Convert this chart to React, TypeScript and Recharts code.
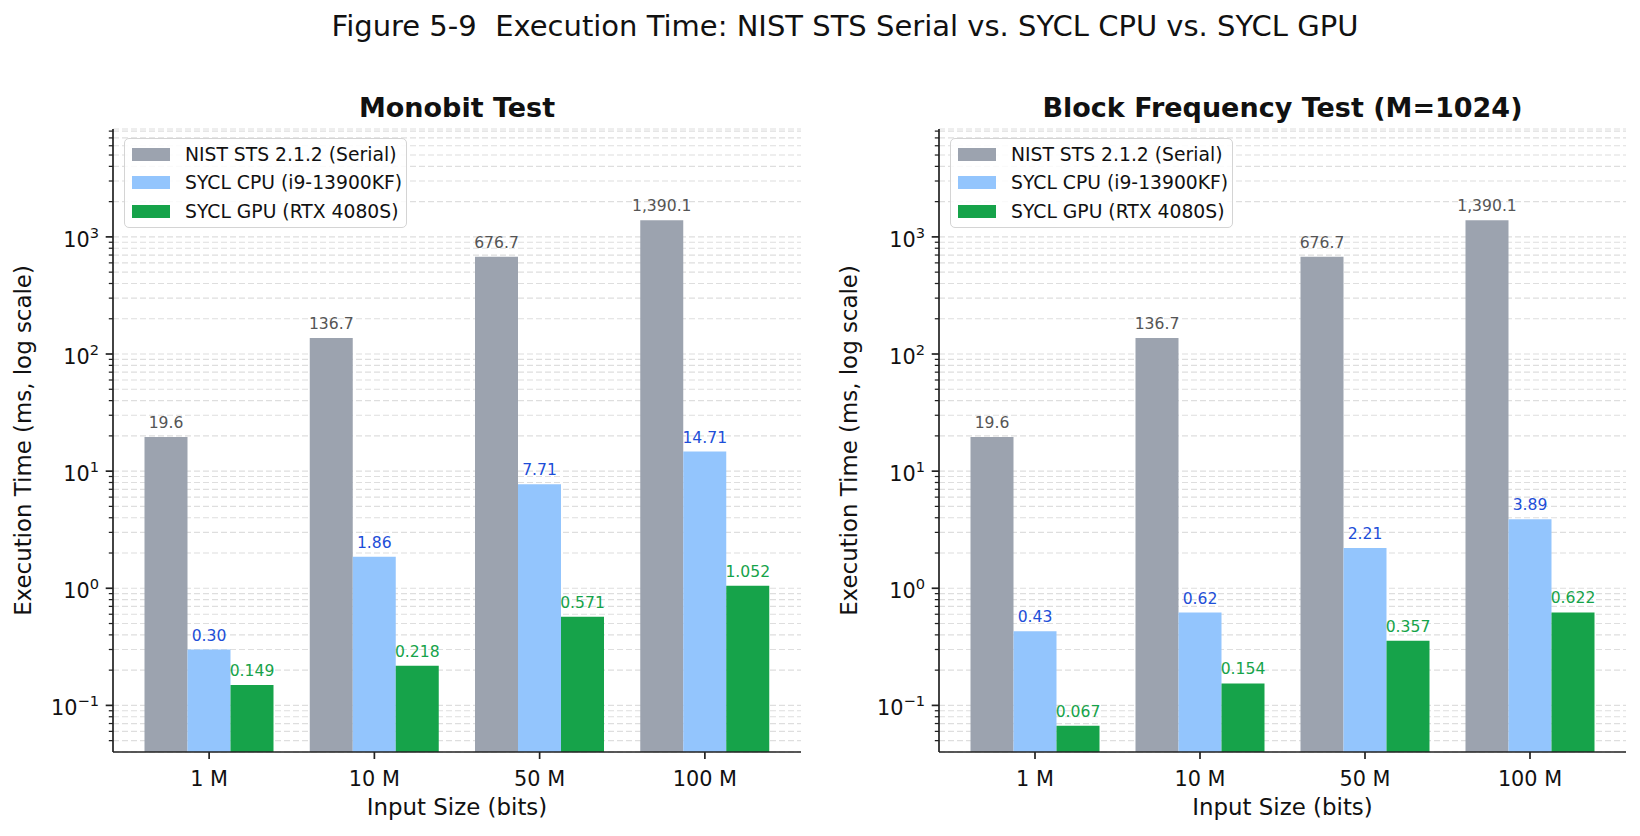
import { BarChart, Bar, XAxis, YAxis, CartesianGrid, LabelList, Label } from 'recharts'

const CATEGORIES = ['1 M', '10 M', '50 M', '100 M']
const SERIAL_MS = [19.6, 136.7, 676.7, 1390.1]
const MONOBIT_CPU_MS = [0.3, 1.86, 7.71, 14.71]
const MONOBIT_GPU_MS = [0.149, 0.218, 0.571, 1.052]
const BLOCK_CPU_MS = [0.43, 0.62, 2.21, 3.89]
const BLOCK_GPU_MS = [0.067, 0.154, 0.357, 0.622]
const SERIES_NAMES = ['NIST STS 2.1.2 (Serial)', 'SYCL CPU (i9-13900KF)', 'SYCL GPU (RTX 4080S)']
const MAJOR_TICKS = [0.1, 1, 10, 100, 1000]
const Y_DOMAIN = [0.04, 8340]

const COLORS = { serial: '#9ca3af', cpu: '#93c5fd', gpu: '#16a34a' }
const LABEL_COLORS = { serial: '#555555', cpu: '#1d4ed8', gpu: '#16a34a' }
const FONT = '"DejaVu Sans", sans-serif'

// minor ticks at 2..9 x each decade, inside the y range
const ALL_TICKS: number[] = []
for (let e = -2; e <= 3; e++) {
  for (let m = 1; m <= 9; m++) {
    const v = parseFloat((m * Math.pow(10, e)).toPrecision(3))
    if (v > Y_DOMAIN[0] && v < Y_DOMAIN[1]) ALL_TICKS.push(v)
  }
}

const makeRows = (cpu: number[], gpu: number[]) =>
  CATEGORIES.map((size, i) => ({ size, serial: SERIAL_MS[i], cpu: cpu[i], gpu: gpu[i] }))

const fmtSerial = (v: any) =>
  Number(v).toLocaleString('en-US', { minimumFractionDigits: 1, maximumFractionDigits: 1 })
const fmtCpu = (v: any) => Number(v).toFixed(2)
const fmtGpu = (v: any) => Number(v).toFixed(3)

function LogTick(props: any) {
  const { x, y, payload } = props
  const axisX = x + 14
  const v = payload.value
  const isMajor = MAJOR_TICKS.includes(v)
  if (!isMajor) {
    return <line x1={axisX - 4.2} x2={axisX} y1={y} y2={y} stroke="#222" strokeWidth={1.25} />
  }
  const exp = Math.round(Math.log10(v))
  const expText = exp < 0 ? '\u2212' + Math.abs(exp) : String(exp)
  return (
    <g>
      <line x1={axisX - 7.3} x2={axisX} y1={y} y2={y} stroke="#222" strokeWidth={1.7} />
      <text x={x} y={y + 10} textAnchor="end" fontSize={20.8} fill="#111">
        <tspan>10</tspan>
        <tspan dy={-9} fontSize={14.6}>{expText}</tspan>
      </text>
    </g>
  )
}

function LegendBox({ left }: { left: number }) {
  const colors = [COLORS.serial, COLORS.cpu, COLORS.gpu]
  return (
    <div
      style={{
        position: 'absolute',
        left,
        top: 138,
        width: 283,
        height: 90,
        boxSizing: 'border-box',
        border: '1.5px solid #d4d4d4',
        borderRadius: 5,
        background: 'rgba(255,255,255,0.85)',
        padding: '1px 0 0 7px',
        fontSize: 18.75,
        color: '#111',
      }}
    >
      {SERIES_NAMES.map((name, i) => (
        <div key={name} style={{ display: 'flex', alignItems: 'center', height: 28.5 }}>
          <div style={{ width: 38, height: 13, background: colors[i], marginRight: 15 }} />
          <span style={{ whiteSpace: 'nowrap' }}>{name}</span>
        </div>
      ))}
    </div>
  )
}

interface PanelProps {
  title: string
  cpu: number[]
  gpu: number[]
  left: number
  axisWidth: number
  rightMargin: number
}

function Panel({ title, cpu, gpu, left, axisWidth, rightMargin }: PanelProps) {
  const rows = makeRows(cpu, gpu)
  const plotW = 820 - axisWidth - rightMargin
  return (
    <div style={{ position: 'absolute', left, top: 0, width: 820, height: 836 }}>
      <div
        style={{
          position: 'absolute',
          left: axisWidth,
          width: plotW,
          top: 94,
          textAlign: 'center',
          fontWeight: 'bold',
          fontSize: 27,
          lineHeight: '27px',
          color: '#111',
          whiteSpace: 'nowrap',
        }}
      >
        {title}
      </div>
      <BarChart
        width={820}
        height={836}
        data={rows}
        margin={{ top: 129, right: rightMargin, bottom: 24, left: 0 }}
        barCategoryGap={18}
        barGap={0}
      >
        <XAxis
          dataKey="size"
          height={60}
          padding={{ left: 13.5, right: 13.5 }}
          tick={{ fontSize: 20.8, fill: '#111' }}
          tickSize={7}
          tickMargin={12}
          tickLine={{ stroke: '#222', strokeWidth: 1.7 }}
          axisLine={{ stroke: '#222', strokeWidth: 1.7 }}
        >
          <Label
            content={(p: any) => (
              <text
                x={p.viewBox.x + p.viewBox.width / 2}
                y={815}
                textAnchor="middle"
                fontSize={22.9}
                fill="#111"
              >
                Input Size (bits)
              </text>
            )}
          />
        </XAxis>
        <YAxis
          type="number"
          scale="log"
          domain={Y_DOMAIN}
          allowDataOverflow
          ticks={ALL_TICKS}
          interval={0}
          width={axisWidth}
          tickSize={7}
          tickMargin={7}
          tickLine={false}
          tick={<LogTick />}
          axisLine={{ stroke: '#222', strokeWidth: 1.7 }}
        >
          <Label
            content={(p: any) => {
              const cx = axisWidth - 90
              const cy = p.viewBox.y + p.viewBox.height / 2
              return (
                <text
                  x={cx}
                  y={cy}
                  transform={`rotate(-90 ${cx} ${cy})`}
                  textAnchor="middle"
                  dominantBaseline="central"
                  fontSize={22.9}
                  fill="#111"
                >
                  Execution Time (ms, log scale)
                </text>
              )
            }}
          />
        </YAxis>
        <Bar dataKey="serial" fill={COLORS.serial} isAnimationActive={false}>
          <LabelList
            dataKey="serial"
            position="top"
            offset={9}
            formatter={fmtSerial}
            fill={LABEL_COLORS.serial}
            fontSize={15.6}
          />
        </Bar>
        <Bar dataKey="cpu" fill={COLORS.cpu} isAnimationActive={false}>
          <LabelList
            dataKey="cpu"
            position="top"
            offset={9}
            formatter={fmtCpu}
            fill={LABEL_COLORS.cpu}
            fontSize={15.6}
          />
        </Bar>
        <Bar dataKey="gpu" fill={COLORS.gpu} isAnimationActive={false}>
          <LabelList
            dataKey="gpu"
            position="top"
            offset={9}
            formatter={fmtGpu}
            fill={LABEL_COLORS.gpu}
            fontSize={15.6}
          />
        </Bar>
        <CartesianGrid
          vertical={false}
          stroke="#c8c8c8"
          strokeOpacity={0.6}
          strokeDasharray="6 3"
          strokeWidth={1.2}
        />
      </BarChart>
      <LegendBox left={axisWidth + 11} />
    </div>
  )
}

export default function App() {
  return (
    <div
      style={{
        position: 'absolute',
        left: 0,
        top: 0,
        width: 1640,
        height: 836,
        background: '#fff',
        fontFamily: FONT,
        overflow: 'hidden',
      }}
    >
      <div
        style={{
          position: 'absolute',
          left: 0,
          width: 1690,
          top: 12,
          textAlign: 'center',
          fontSize: 29,
          lineHeight: '29px',
          color: '#111',
          whiteSpace: 'nowrap',
        }}
      >
        Figure 5-9&nbsp;&nbsp;Execution Time: NIST STS Serial vs. SYCL CPU vs. SYCL GPU
      </div>
      <Panel
        title="Monobit Test"
        cpu={MONOBIT_CPU_MS}
        gpu={MONOBIT_GPU_MS}
        left={0}
        axisWidth={113}
        rightMargin={19}
      />
      <Panel
        title="Block Frequency Test (M=1024)"
        cpu={BLOCK_CPU_MS}
        gpu={BLOCK_GPU_MS}
        left={820}
        axisWidth={119}
        rightMargin={14}
      />
    </div>
  )
}
